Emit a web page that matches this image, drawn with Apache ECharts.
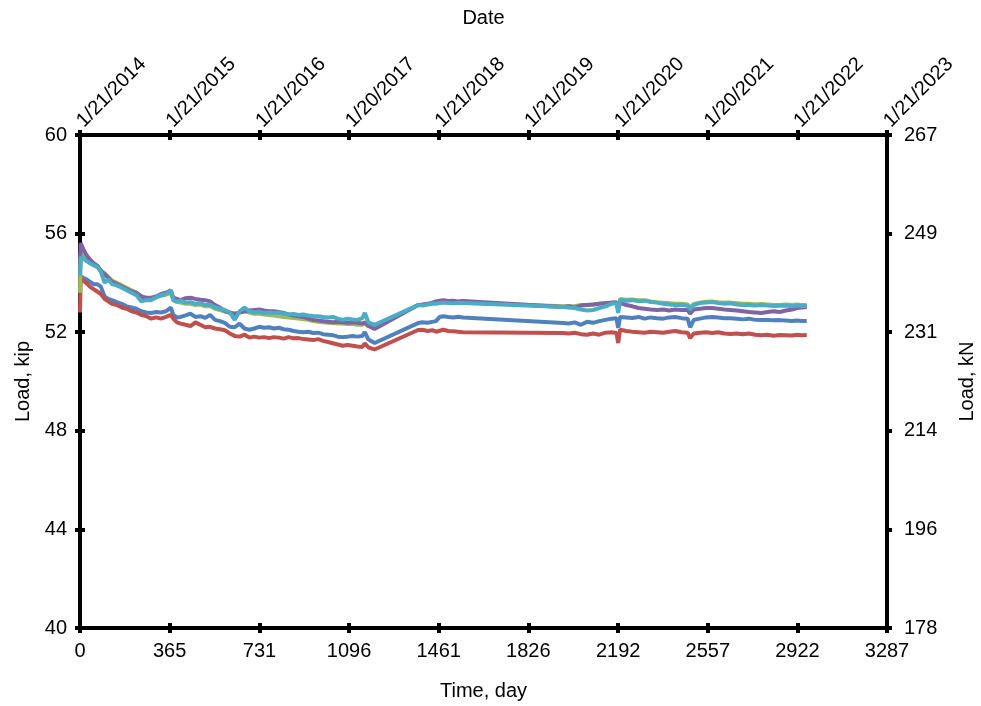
<!DOCTYPE html>
<html>
<head>
<meta charset="utf-8">
<title>Load history</title>
<script src="https://cdn.jsdelivr.net/npm/echarts@6/dist/echarts.min.js"></script>
<style>
  html, body { margin: 0; padding: 0; background: #fff; }
  #chart { width: 981px; height: 706px; }
</style>
</head>
<body>
<div id="chart"></div>
<script>
// Elapsed time of each reading, days since 1/21/2014
const days = [
  0, 3, 12, 25, 40, 55, 70, 85, 100, 115, 130,
  150, 170, 190, 210, 230, 250, 270, 290, 310, 330, 350,
  370, 380, 395, 410, 430, 450, 470, 490, 510, 530, 550,
  570, 590, 610, 630, 650, 670, 690, 710, 730, 750, 770,
  790, 810, 830, 850, 870, 890, 910, 930, 950, 970, 990,
  1010, 1030, 1050, 1070, 1090, 1110, 1130, 1150, 1160, 1175, 1200,
  1377, 1395, 1415, 1435, 1450, 1465, 1480, 1500, 1520, 1540, 1560,
  1968, 1990, 2015, 2040, 2065, 2090, 2115, 2140, 2165, 2185, 2192,
  2200, 2225, 2250, 2275, 2300, 2325, 2350, 2375, 2400, 2425, 2450,
  2475, 2485, 2500, 2525, 2550, 2575, 2600, 2625, 2650, 2675, 2700,
  2725, 2750, 2775, 2800, 2825, 2850, 2875, 2900, 2920, 2940, 2960
];

// Load readings, kip
const loadBlue = [
  53.9, 54.3, 54.2, 54.15, 54.05, 53.95, 53.95, 53.85, 53.45, 53.35, 53.3,
  53.22, 53.15, 53.05, 53.0, 52.95, 52.85, 52.8, 52.78, 52.82, 52.8, 52.85,
  53.0, 52.7, 52.6, 52.62, 52.68, 52.75, 52.62, 52.65, 52.58, 52.7, 52.5,
  52.45, 52.38, 52.22, 52.2, 52.35, 52.15, 52.1, 52.15, 52.22, 52.18, 52.2,
  52.15, 52.18, 52.12, 52.1, 52.05, 52.02, 52.0, 52.02, 51.97, 51.98, 51.92,
  51.9, 51.88, 51.82, 51.8, 51.82, 51.85, 51.82, 51.85, 52.0, 51.7, 51.56,
  52.37, 52.4, 52.38, 52.42, 52.45, 52.62, 52.65, 52.62, 52.6, 52.63, 52.6,
  52.37, 52.35, 52.4, 52.3, 52.42, 52.38, 52.45, 52.5, 52.55, 52.57, 52.17,
  52.62, 52.6, 52.58, 52.62, 52.55, 52.6, 52.57, 52.55, 52.6, 52.62, 52.57,
  52.55, 52.2, 52.5, 52.55, 52.6, 52.62, 52.6, 52.57, 52.57, 52.55, 52.52,
  52.55, 52.5, 52.49, 52.5, 52.48, 52.49, 52.47, 52.45, 52.47, 52.45, 52.45
];
const loadRed = [
  52.8, 54.2, 54.1, 54.0, 53.85, 53.75, 53.65, 53.55, 53.35, 53.25, 53.15,
  53.1, 53.0, 52.95, 52.85, 52.8, 52.7, 52.65, 52.55, 52.6, 52.55, 52.62,
  52.7, 52.55, 52.4, 52.35, 52.3, 52.25, 52.4, 52.3, 52.2, 52.22, 52.15,
  52.12, 52.08, 51.95, 51.85, 51.82, 51.9, 51.78, 51.82, 51.78, 51.8, 51.76,
  51.8, 51.78, 51.74, 51.8, 51.75, 51.76, 51.72, 51.7, 51.68, 51.72, 51.65,
  51.6, 51.55, 51.5, 51.45, 51.48, 51.45, 51.42, 51.4, 51.55, 51.38, 51.3,
  52.09, 52.1, 52.05, 52.08, 52.02, 52.06, 52.1, 52.05, 52.04, 52.02, 52.0,
  51.97, 51.95, 51.98, 51.92, 51.9, 51.95, 51.9, 51.98, 52.0, 51.97, 51.56,
  52.1, 52.05, 52.02, 52.0, 51.98, 52.02, 52.0, 51.98, 52.02, 52.05, 52.0,
  51.98, 51.76, 51.95, 51.98, 52.0, 51.97, 52.0, 51.95, 51.93, 51.95, 51.92,
  51.95, 51.9, 51.88, 51.9, 51.86, 51.89, 51.88, 51.87, 51.9, 51.88, 51.89
];
const loadOlive = [
  53.6, 55.2, 55.1, 54.95, 54.85, 54.75, 54.7, 54.5, 54.4, 54.25, 54.1,
  54.0, 53.9, 53.8, 53.7, 53.6, 53.45, 53.35, 53.35, 53.4, 53.48, 53.52,
  53.6, 53.3, 53.22, 53.2, 53.15, 53.15, 53.1, 53.12, 53.05, 53.05, 52.95,
  52.9, 52.85, 52.78, 52.7, 52.8, 52.85, 52.8, 52.75, 52.75, 52.72, 52.7,
  52.68, 52.65, 52.62, 52.6, 52.58, 52.55, 52.52, 52.5, 52.45, 52.42, 52.4,
  52.38, 52.37, 52.35, 52.35, 52.33, 52.33, 52.3, 52.3, 52.35, 52.25, 52.2,
  53.1, 53.1, 53.13, 53.17, 53.18, 53.2, 53.22, 53.2, 53.2, 53.2, 53.2,
  53.05, 53.05, 53.05, 53.1, 53.1, 53.12, 53.15, 53.18, 53.2, 53.22, 52.95,
  53.35, 53.32, 53.33, 53.3, 53.3, 53.25, 53.22, 53.2, 53.18, 53.15, 53.15,
  53.12, 53.0, 53.15, 53.2, 53.24, 53.25, 53.22, 53.2, 53.2, 53.18, 53.15,
  53.15, 53.12, 53.14, 53.12, 53.1, 53.1, 53.12, 53.1, 53.12, 53.1, 53.1
];
const loadPurple = [
  54.6, 55.62, 55.4, 55.15, 54.95, 54.8, 54.7, 54.5, 54.35, 54.2, 54.05,
  53.95, 53.85, 53.75, 53.65, 53.6, 53.45, 53.4, 53.4, 53.45, 53.55, 53.6,
  53.7, 53.4, 53.35, 53.3, 53.38, 53.4, 53.35, 53.32, 53.3, 53.25, 53.1,
  53.0, 52.85, 52.8, 52.75, 52.8, 52.85, 52.88, 52.9, 52.92, 52.88, 52.85,
  52.85, 52.82, 52.78, 52.72, 52.68, 52.65, 52.62, 52.55, 52.5, 52.48, 52.45,
  52.42, 52.4, 52.42, 52.4, 52.38, 52.4, 52.38, 52.35, 52.4, 52.25, 52.13,
  53.1, 53.12, 53.15, 53.2, 53.25, 53.28, 53.3, 53.27, 53.28, 53.25, 53.27,
  53.02, 53.05, 53.0, 53.08, 53.1, 53.12, 53.15, 53.18, 53.2, 53.2, 52.95,
  53.2, 53.1, 53.05, 52.98, 52.95, 52.92, 52.9, 52.92, 52.88, 52.92, 52.9,
  52.9, 52.75, 52.92, 52.95, 52.98, 52.98, 52.95, 52.92, 52.9, 52.88, 52.85,
  52.82, 52.8, 52.78, 52.82, 52.85, 52.82, 52.88, 52.92, 52.98, 53.0, 53.02
];
const loadCyan = [
  54.3, 55.05, 55.0, 54.9, 54.8, 54.72, 54.65, 54.45, 54.0, 54.15, 53.95,
  53.9, 53.8, 53.7, 53.6, 53.5, 53.25, 53.3, 53.3, 53.42, 53.5, 53.55,
  53.7, 53.3, 53.25, 53.28, 53.2, 53.22, 53.15, 53.18, 53.1, 53.12, 53.0,
  52.95, 52.9, 52.8, 52.5, 52.85, 53.0, 52.85, 52.8, 52.82, 52.78, 52.8,
  52.78, 52.8, 52.75, 52.72, 52.74, 52.7, 52.72, 52.68, 52.66, 52.65, 52.62,
  52.6, 52.62, 52.55, 52.5, 52.55, 52.52, 52.5, 52.57, 52.78, 52.4, 52.3,
  53.1, 53.08, 53.12, 53.15, 53.15, 53.18, 53.2, 53.18, 53.17, 53.18, 53.18,
  53.02, 53.0, 52.98, 52.92, 52.88, 52.9, 52.98, 53.05, 53.15, 53.18, 52.78,
  53.3, 53.28, 53.3, 53.25, 53.28, 53.22, 53.2, 53.15, 53.12, 53.1, 53.1,
  53.08, 52.92, 53.1, 53.18, 53.2, 53.22, 53.18, 53.15, 53.17, 53.12, 53.1,
  53.1, 53.08, 53.1, 53.08, 53.06, 53.07, 53.08, 53.05, 53.08, 53.06, 53.06
];

// Axis ticks: elapsed days and the matching calendar dates
const dayTicks = [0, 365, 731, 1096, 1461, 1826, 2192, 2557, 2922, 3287];
const dateLabels = ['1/21/2014', '1/21/2015', '1/21/2016', '1/20/2017', '1/21/2018',
                    '1/21/2019', '1/21/2020', '1/20/2021', '1/21/2022', '1/21/2023'];
const KIP_TO_KN = 4.44822;

const FONT = '"Liberation Sans", Arial, sans-serif';
const black = '#000';

function pairs(values) {
  return days.map((d, i) => [d, values[i]]);
}

const tickStyle = { color: black, width: 4 };
const labelStyle = { color: black, fontSize: 20, fontFamily: FONT };
const nameStyle = { color: black, fontSize: 20, fontFamily: FONT };

function xBase(extra) {
  return Object.assign({
    type: 'value', min: 0, max: 3287,
    splitLine: { show: false },
    axisLine: { show: true, onZero: false, lineStyle: { color: black, width: 4 } },
    axisTick: { show: true, customValues: dayTicks, length: 5, lineStyle: tickStyle },
    axisLabel: { show: false }
  }, extra);
}
function yBase(extra) {
  return Object.assign({
    type: 'value', min: 40, max: 60, interval: 4,
    splitLine: { show: false },
    axisLine: { show: true, onZero: false, lineStyle: { color: black, width: 4 } },
    axisTick: { show: true, length: 5, lineStyle: tickStyle },
    axisLabel: { show: false }
  }, extra);
}

const chart = echarts.init(document.getElementById('chart'), null, { renderer: 'canvas' });

const lineSeries = (name, color, values) => ({
  name, type: 'line', xAxisIndex: 0, yAxisIndex: 0,
  data: pairs(values), showSymbol: false, symbol: 'none',
  lineStyle: { color, width: 4 }, itemStyle: { color },
  silent: true, z: 3
});

chart.setOption({
  animation: false,
  backgroundColor: '#fff',
  textStyle: { fontFamily: FONT },
  grid: { left: 80, right: 94, top: 135, bottom: 78, containLabel: false, outerBoundsMode: 'none' },
  xAxis: [
    xBase({
      position: 'bottom', name: 'Time, day', nameLocation: 'middle', nameGap: 53,
      nameTextStyle: nameStyle,
      axisLabel: Object.assign({
        show: true, customValues: dayTicks, margin: 13,
        formatter: v => String(Math.round(v))
      }, labelStyle)
    }),
    xBase({
      position: 'top', name: 'Date', nameLocation: 'middle', nameGap: 107,
      nameTextStyle: nameStyle,
      axisLabel: Object.assign({
        show: true, customValues: dayTicks, rotate: -45, margin: 11,
        formatter: v => dateLabels[dayTicks.indexOf(Math.round(v))] || ''
      }, labelStyle)
    }),
    xBase({ position: 'bottom', axisLine: { show: false }, axisTick: { show: true, inside: true, customValues: dayTicks, length: 5, lineStyle: tickStyle } }),
    xBase({ position: 'top', axisLine: { show: false }, axisTick: { show: true, inside: true, customValues: dayTicks, length: 5, lineStyle: tickStyle } })
  ],
  yAxis: [
    yBase({
      position: 'left', name: 'Load, kip', nameLocation: 'middle', nameGap: 46,
      nameTextStyle: nameStyle,
      axisLabel: Object.assign({ show: true, margin: 13 }, labelStyle)
    }),
    yBase({
      position: 'right', name: 'Load, kN', nameLocation: 'middle', nameGap: 70,
      nameTextStyle: nameStyle,
      axisLabel: Object.assign({
        show: true, margin: 17,
        formatter: v => String(Math.round(v * KIP_TO_KN))
      }, labelStyle)
    }),
    yBase({ position: 'left', axisLine: { show: false }, axisTick: { show: true, inside: true, length: 5, lineStyle: tickStyle } }),
    yBase({ position: 'right', axisLine: { show: false }, axisTick: { show: true, inside: true, length: 5, lineStyle: tickStyle } })
  ],
  series: [
    lineSeries('Blue', '#4F81BD', loadBlue),
    lineSeries('Red', '#C0504D', loadRed),
    lineSeries('Olive', '#9BBB59', loadOlive),
    lineSeries('Purple', '#8064A2', loadPurple),
    lineSeries('Cyan', '#4BACC6', loadCyan)
  ]
});
</script>
</body>
</html>
